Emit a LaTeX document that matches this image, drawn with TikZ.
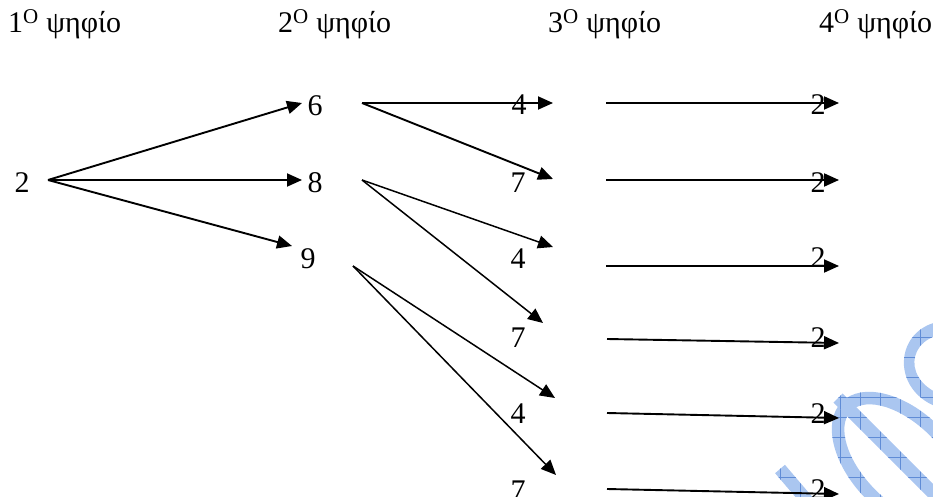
\documentclass[tikz,border=0pt]{standalone}
\usepackage{fontspec}
\setmainfont{Liberation Serif}
\usetikzlibrary{arrows.meta,patterns.meta}
\definecolor{wmlight}{RGB}{170,198,240}
\definecolor{wmdark}{RGB}{96,140,214}
\begin{document}
\begin{tikzpicture}[x=1pt,y=-1pt,
  lbl/.style={font=\fontsize{30}{36}\selectfont, inner sep=0pt, anchor=base},
  hdr/.style={font=\fontsize{30}{36}\selectfont, inner sep=0pt, anchor=base west},
  arr/.style={line width=1.9pt, -{Triangle[length=15pt,width=13pt]}},
  thinarr/.style={line width=1.5pt, -{Triangle[length=15pt,width=13pt]}},
  wmfill/.style={fill=wmlight, postaction={pattern={Hatch[angle=0,distance=20pt,line width=0.6pt]}, pattern color=wmdark}}]
\useasboundingbox (0,0) rectangle (933,497);
% watermark (partly visible)
\path[wmfill] (950,320.5) .. controls (891,321) and (886,399) .. (950,410.5)
   -- (950,397.5) .. controls (900,385) and (905,335) .. (950,333.5) -- cycle;
\begin{scope}[rotate around={-45:(903,463)}]
\path[wmfill, even odd rule] (903,463) ellipse [x radius=86.5pt, y radius=51.5pt]
   (903,463) ellipse [x radius=73.5pt, y radius=38.5pt];
\end{scope}
\path[wmfill] (842.6,393.4) -- (964.6,515.4) -- (955.4,524.6) -- (833.4,402.6) -- cycle;
\path[wmfill] (784.9,464.8) -- (819.9,505.8) -- (810.1,514.2) -- (775.1,473.2) -- cycle;
% headers
\node[hdr] (h1) at (8,33) {1\textsuperscript{O} ψηφίο};
\node[hdr] (h2) at (278,33) {2\textsuperscript{O} ψηφίο};
\node[hdr] (h3) at (548,33) {3\textsuperscript{O} ψηφίο};
\node[hdr] (h4) at (819,33) {4\textsuperscript{O} ψηφίο};
% digits
\node[lbl] (a) at (22,192) {2};
\node[lbl] (b6) at (315,116) {6};
\node[lbl] (b8) at (315,192) {8};
\node[lbl] (b9) at (308,268) {9};
\node[lbl] (c1) at (519,115) {4};
\node[lbl] (c2) at (518,192) {7};
\node[lbl] (c3) at (518,268) {4};
\node[lbl] (c4) at (518,347) {7};
\node[lbl] (c5) at (518,423) {4};
\node[lbl] (c6) at (518,500) {7};
\node[lbl] (d1) at (818,115) {2};
\node[lbl] (d2) at (818,192) {2};
\node[lbl] (d3) at (818,267) {2};
\node[lbl] (d4) at (818,347) {2};
\node[lbl] (d5) at (818,423) {2};
\node[lbl] (d6) at (818,499) {2};
% connector end points
\coordinate (ao) at (48,180);
\coordinate (b6i) at (302,103);
\coordinate (b8i) at (302,180);
\coordinate (b9i) at (292,246);
\coordinate (b6o) at (362,103);
\coordinate (b8o) at (362,180);
\coordinate (b9o) at (353,266);
\coordinate (c1i) at (553,103);
\coordinate (c2i) at (553,179);
\coordinate (c3i) at (553,247);
\coordinate (c4i) at (543,323);
\coordinate (c5i) at (555,398);
\coordinate (c6i) at (556,475);
\coordinate (c1o) at (606,103);
\coordinate (c2o) at (606,180);
\coordinate (c3o) at (606,266);
\coordinate (c4o) at (607,339);
\coordinate (c5o) at (607,413);
\coordinate (c6o) at (607,489);
\coordinate (d1i) at (839,103);
\coordinate (d2i) at (839,180);
\coordinate (d3i) at (839,266);
\coordinate (d4i) at (839,343);
\coordinate (d5i) at (839,418);
\coordinate (d6i) at (839,494);
% connectors
\draw[arr] (ao) -- (b6i);
\draw[arr] (ao) -- (b8i);
\draw[arr] (ao) -- (b9i);
\draw[arr] (b6o) -- (c1i);
\draw[arr] (b6o) -- (c2i);
\draw[thinarr] (b8o) -- (c3i);
\draw[thinarr] (b8o) -- (c4i);
\draw[thinarr] (b9o) -- (c5i);
\draw[thinarr] (b9o) -- (c6i);
\draw[arr] (c1o) -- (d1i);
\draw[arr] (c2o) -- (d2i);
\draw[arr] (c3o) -- (d3i);
\draw[arr] (c4o) -- (d4i);
\draw[arr] (c5o) -- (d5i);
\draw[arr] (c6o) -- (d6i);
\end{tikzpicture}
\end{document}
